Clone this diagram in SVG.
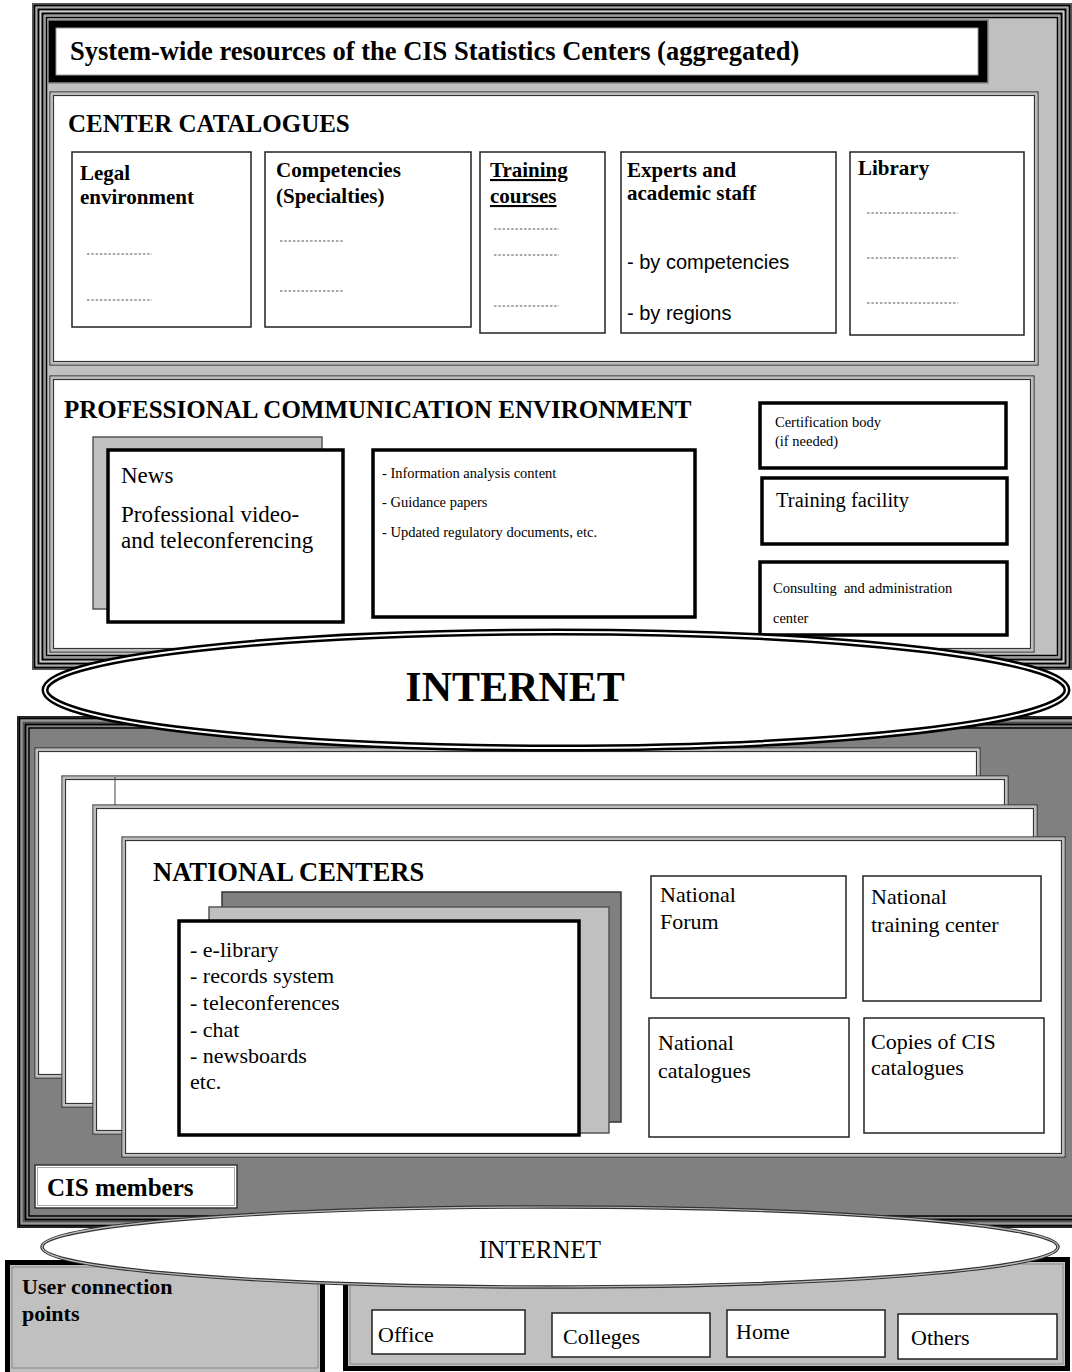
<svg xmlns="http://www.w3.org/2000/svg" width="1072" height="1372" viewBox="0 0 1072 1372">
<style>
.serif{font-family:"Liberation Serif","Times New Roman",serif;fill:#000}
.sans{font-family:"Liberation Sans",Arial,sans-serif;fill:#000}
.b{font-weight:bold}
.h1{font-size:26.5px}
.h2{font-size:25px}
.h3{font-size:21px}
.t22{font-size:22px}
.t23{font-size:23px}
.small{font-size:14.5px}
.cat{fill:#fff;stroke:#222;stroke-width:1.5}
.thick{fill:#fff;stroke:#000;stroke-width:3.5}
.thin{fill:#fff;stroke:#222;stroke-width:1.5}
.dots{stroke:#555;stroke-width:1.2;stroke-dasharray:2.5 1.8}
.pOut{fill:#fff;stroke:#333;stroke-width:1.2}
.pMid{fill:none;stroke:#bbb;stroke-width:2}
.pIn{fill:none;stroke:#333;stroke-width:1.2}
.none{fill:none}
</style>

<!-- TOP FRAME -->
<g id="top-frame">
  <rect x="32" y="3" width="1040" height="667" fill="#c0c0c0"/>
  <rect class="none" x="32.75" y="3.75" width="1038.5" height="665.5" stroke="#555" stroke-width="1.5"/>
  <rect class="none" x="34.5" y="5.5" width="1035" height="662" stroke="#000" stroke-width="2"/>
  <rect class="none" x="36.5" y="7.5" width="1031" height="658" stroke="#aaa" stroke-width="1.5"/>
  <rect class="none" x="38.5" y="9.5" width="1027" height="654" stroke="#000" stroke-width="2"/>
  <rect class="none" x="40.5" y="11.5" width="1023" height="650" stroke="#ccc" stroke-width="1.5"/>
  <rect class="none" x="42.5" y="13.5" width="1019" height="646" stroke="#000" stroke-width="2"/>
  <rect class="none" x="44.5" y="15.5" width="1015" height="642" stroke="#999" stroke-width="1.5"/>
  <rect class="none" x="46.5" y="17.5" width="1011" height="638" stroke="#000" stroke-width="1.5"/>
</g>

<g id="title">
  <rect x="48" y="20" width="940" height="63" fill="#000" stroke="#888" stroke-width="1.5"/>
  <rect x="56" y="28" width="922" height="47" fill="#fff" stroke="#999" stroke-width="1"/>
  <text class="serif b h1" x="70" y="60">System-wide resources of the CIS Statistics Centers (aggregated)</text>
</g>

<!-- CENTER CATALOGUES -->
<g id="center-catalogues">
  <rect class="pOut" x="50" y="92" width="988" height="273"/>
  <rect class="pMid" x="51.75" y="93.75" width="984.5" height="269.5"/>
  <rect class="pIn" x="53.5" y="95.5" width="981" height="266"/>
  <text class="serif b h2" x="68" y="132">CENTER CATALOGUES</text>
</g>

<g id="legal">
  <rect class="cat" x="72" y="152" width="179" height="175"/>
  <text class="serif b h3" x="80" y="180">Legal</text>
  <text class="serif b h3" x="80" y="204">environment</text>
  <line class="dots" x1="87" y1="254" x2="152" y2="254"/>
  <line class="dots" x1="87" y1="300" x2="152" y2="300"/>
</g>

<g id="competencies">
  <rect class="cat" x="265" y="152" width="206" height="175"/>
  <text class="serif b h3" x="276" y="177">Competencies</text>
  <text class="serif b h3" x="276" y="203">(Specialties)</text>
  <line class="dots" x1="280" y1="241" x2="344" y2="241"/>
  <line class="dots" x1="280" y1="291" x2="344" y2="291"/>
</g>

<g id="training-courses">
  <rect class="cat" x="480" y="152" width="125" height="181" stroke-width="2.5"/>
  <text class="serif b h3" x="490" y="177" text-decoration="underline">Training</text>
  <text class="serif b h3" x="490" y="203" text-decoration="underline">courses</text>
  <line class="dots" x1="494" y1="229" x2="559" y2="229"/>
  <line class="dots" x1="494" y1="255" x2="559" y2="255"/>
  <line class="dots" x1="494" y1="306" x2="559" y2="306"/>
</g>

<g id="experts">
  <rect class="cat" x="621" y="152" width="215" height="181"/>
  <text class="serif b h3" x="627" y="177">Experts and</text>
  <text class="serif b h3" x="627" y="200">academic staff</text>
  <text class="sans" font-size="20" x="627" y="269">- by competencies</text>
  <text class="sans" font-size="20" x="627" y="320">- by regions</text>
</g>

<g id="library">
  <rect class="cat" x="850" y="152" width="174" height="183"/>
  <text class="serif b h3" x="858" y="175">Library</text>
  <line class="dots" x1="867" y1="213" x2="958" y2="213"/>
  <line class="dots" x1="867" y1="258" x2="958" y2="258"/>
  <line class="dots" x1="867" y1="303" x2="958" y2="303"/>
</g>

<!-- PROFESSIONAL COMMUNICATION ENVIRONMENT -->
<g id="pce">
  <rect class="pOut" x="50" y="376" width="984" height="276"/>
  <rect class="pMid" x="51.75" y="377.75" width="980.5" height="272.5"/>
  <rect class="pIn" x="53.5" y="379.5" width="977" height="269"/>
  <text class="serif b h2" x="64" y="418">PROFESSIONAL COMMUNICATION ENVIRONMENT</text>
</g>

<g id="news">
  <rect x="93" y="437" width="229" height="172" fill="#c0c0c0" stroke="#555" stroke-width="1.5"/>
  <rect class="thick" x="108" y="450" width="235" height="172"/>
  <text class="serif t23" x="121" y="483">News</text>
  <text class="serif t23" x="121" y="522">Professional video-</text>
  <text class="serif t23" x="121" y="548">and teleconferencing</text>
</g>

<g id="info-content">
  <rect class="thick" x="373" y="450" width="322" height="167"/>
  <text class="serif small" x="382" y="478">- Information analysis content</text>
  <text class="serif small" x="382" y="507">- Guidance papers</text>
  <text class="serif small" x="382" y="537">- Updated regulatory documents, etc.</text>
</g>

<g id="certification">
  <rect class="thick" x="760" y="403" width="246" height="65"/>
  <text class="serif small" x="775" y="427">Certification body</text>
  <text class="serif small" x="775" y="446">(if needed)</text>
</g>

<g id="training-facility">
  <rect class="thick" x="762" y="478" width="245" height="66"/>
  <text class="serif" font-size="20.5" x="776" y="507">Training facility</text>
</g>

<g id="consulting">
  <rect class="thick" x="760" y="562" width="247" height="73"/>
  <text class="serif small" x="773" y="593" xml:space="preserve">Consulting  and administration</text>
  <text class="serif small" x="773" y="623">center</text>
</g>

<!-- CIS MEMBERS FRAME -->
<g id="cis-frame">
  <rect x="17" y="716" width="1070" height="512" fill="#808080"/>
  <rect class="none" x="17.75" y="716.75" width="1068.5" height="510.5" stroke="#222" stroke-width="1.5"/>
  <rect class="none" x="19.5" y="718.5" width="1065" height="507" stroke="#000" stroke-width="2"/>
  <rect class="none" x="21.5" y="720.5" width="1061" height="503" stroke="#999" stroke-width="2"/>
  <rect class="none" x="23.5" y="722.5" width="1057" height="499" stroke="#555" stroke-width="1.5"/>
  <rect class="none" x="25.5" y="724.5" width="1053" height="495" stroke="#000" stroke-width="2"/>
  <rect class="none" x="27.5" y="726.5" width="1049" height="491" stroke="#888" stroke-width="1.5"/>
  <rect class="none" x="29" y="728" width="1046" height="488" stroke="#000" stroke-width="1.5"/>
</g>

<g id="panel-1">
  <rect class="pOut" x="35" y="748" width="945" height="330"/>
  <rect class="pMid" x="36.75" y="749.75" width="941.5" height="326.5"/>
  <rect class="pIn" x="38.5" y="751.5" width="938" height="323"/>
</g>
<g id="panel-2">
  <rect class="pOut" x="62" y="776" width="946" height="331"/>
  <rect class="pMid" x="63.75" y="777.75" width="942.5" height="327.5"/>
  <rect class="pIn" x="65.5" y="779.5" width="939" height="324"/>
  <line x1="115" y1="777" x2="115" y2="805" stroke="#444" stroke-width="1"/>
</g>
<g id="panel-3">
  <rect class="pOut" x="93" y="805" width="944" height="329"/>
  <rect class="pMid" x="94.75" y="806.75" width="940.5" height="325.5"/>
  <rect class="pIn" x="96.5" y="808.5" width="937" height="322"/>
</g>
<g id="national-centers">
  <rect class="pOut" x="122" y="837" width="943" height="320"/>
  <rect class="pMid" x="123.75" y="838.75" width="939.5" height="316.5"/>
  <rect class="pIn" x="125.5" y="840.5" width="936" height="313"/>
  <text class="serif b h1" x="153" y="881">NATIONAL CENTERS</text>
</g>

<g id="national-services">
  <rect x="222" y="892" width="399" height="230" fill="#808080" stroke="#333" stroke-width="1.5"/>
  <rect x="209" y="907" width="400" height="226" fill="#c0c0c0" stroke="#555" stroke-width="1.5"/>
  <rect class="thick" x="179" y="921" width="400" height="214"/>
  <text class="serif t22" x="190" y="957">- e-library</text>
  <text class="serif t22" x="190" y="983">- records system</text>
  <text class="serif t22" x="190" y="1010">- teleconferences</text>
  <text class="serif t22" x="190" y="1037">- chat</text>
  <text class="serif t22" x="190" y="1063">- newsboards</text>
  <text class="serif t22" x="190" y="1089">etc.</text>
</g>

<g id="national-forum">
  <rect class="thin" x="651" y="876" width="195" height="122"/>
  <text class="serif t22" x="660" y="902">National</text>
  <text class="serif t22" x="660" y="929">Forum</text>
</g>
<g id="national-training-center">
  <rect class="thin" x="863" y="876" width="178" height="125"/>
  <text class="serif t22" x="871" y="904">National</text>
  <text class="serif t22" x="871" y="932">training center</text>
</g>
<g id="national-catalogues">
  <rect class="thin" x="649" y="1018" width="200" height="119"/>
  <text class="serif t22" x="658" y="1050">National</text>
  <text class="serif t22" x="658" y="1078">catalogues</text>
</g>
<g id="copies-cis-catalogues">
  <rect class="thin" x="864" y="1018" width="180" height="115"/>
  <text class="serif t22" x="871" y="1049">Copies of CIS</text>
  <text class="serif t22" x="871" y="1075">catalogues</text>
</g>

<g id="cis-members">
  <rect x="35" y="1165" width="202" height="43" fill="#fff" stroke="#333" stroke-width="1.5"/>
  <rect class="none" x="37.5" y="1167.5" width="197" height="38" stroke="#aaa" stroke-width="1"/>
  <text class="serif b h2" x="47" y="1196">CIS members</text>
</g>

<!-- USER CONNECTION POINTS -->
<g id="user-connection-points">
  <rect x="7.5" y="1262.5" width="315" height="112" fill="#c0c0c0" stroke="#000" stroke-width="5"/>
  <rect class="none" x="12" y="1267" width="306" height="101" stroke="#888" stroke-width="1"/>
  <text class="serif b t22" x="22" y="1294">User connection</text>
  <text class="serif b t22" x="22" y="1321">points</text>
</g>
<g id="user-points-area">
  <rect x="345.5" y="1259.5" width="722" height="109" fill="#c0c0c0" stroke="#000" stroke-width="5"/>
  <rect class="none" x="350" y="1264" width="713" height="100" stroke="#888" stroke-width="1"/>
</g>
<g id="office">
  <rect class="thin" x="372" y="1310" width="153" height="44"/>
  <text class="serif t22" x="378" y="1342">Office</text>
</g>
<g id="colleges">
  <rect class="thin" x="552" y="1313" width="158" height="44"/>
  <text class="serif t22" x="563" y="1344">Colleges</text>
</g>
<g id="home">
  <rect class="thin" x="727" y="1310" width="158" height="47"/>
  <text class="serif t22" x="736" y="1339">Home</text>
</g>
<g id="others">
  <rect class="thin" x="898" y="1314" width="159" height="45"/>
  <text class="serif t22" x="911" y="1345">Others</text>
</g>

<!-- INTERNET ELLIPSES -->
<g id="internet-1">
  <ellipse cx="556" cy="690" rx="511" ry="58" fill="#fff" stroke="#000" stroke-width="7"/>
  <ellipse cx="556" cy="690" rx="511" ry="58" fill="none" stroke="#fff" stroke-width="2"/>
  <text class="serif b" font-size="42" x="515" y="701" text-anchor="middle">INTERNET</text>
</g>
<g id="internet-2">
  <ellipse cx="550" cy="1247" rx="508" ry="40" fill="#fff" stroke="#333" stroke-width="3.5"/>
  <ellipse cx="550" cy="1247" rx="508" ry="40" fill="none" stroke="#bbb" stroke-width="1.2"/>
  <text class="serif" font-size="25" x="540" y="1258" text-anchor="middle">INTERNET</text>
</g>

<g id="connectors"/>
</svg>
